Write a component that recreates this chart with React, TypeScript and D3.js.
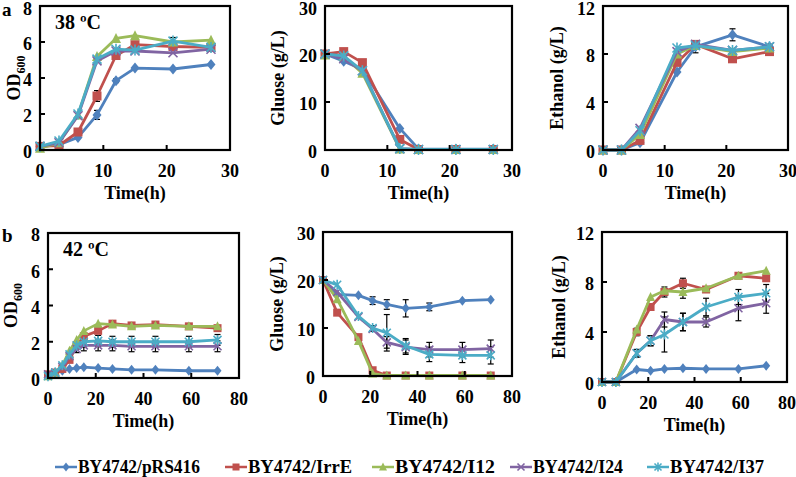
import React from "react";
import * as d3 from "d3";

// ---------- data ----------
const strains = ["BY4742/pRS416", "BY4742/IrrE", "BY4742/I12", "BY4742/I24", "BY4742/I37"];
const colors = ["#4F81BD", "#C0504D", "#9BBB59", "#8064A2", "#4BACC6"];
const markers = ["diamond", "square", "triangle", "x", "star"];

const timeA_OD = [0, 3, 6, 9, 12, 15, 21, 27];
const timeA = [0, 3, 6, 12, 15, 21, 27];
const timeB_OD = [0, 3, 6, 9, 12, 15, 21, 27, 35, 45, 59, 71];
const timeB = [0, 6, 15, 21, 27, 35, 45, 59, 71];

// 38 °C OD600
const odA = [
  [0.2, 0.3, 0.7, 1.95, 3.85, 4.55, 4.5, 4.75],
  [0.2, 0.25, 1.0, 3.0, 5.25, 5.85, 5.75, 5.7],
  [0.1, 0.4, 1.95, 5.2, 6.2, 6.35, 6.0, 6.1],
  [0.2, 0.4, 1.9, 4.95, 5.5, 5.5, 5.4, 5.6],
  [0.2, 0.5, 2.0, 5.05, 5.6, 5.55, 6.05, 5.7],
];
const odAErr = [
  [0, 0, 0, 0.25, 0.1, 0, 0, 0],
  [0, 0, 0, 0.3, 0.1, 0, 0, 0],
  [0, 0, 0, 0, 0, 0, 0, 0],
  [0, 0, 0, 0, 0, 0, 0, 0],
  [0, 0, 0, 0, 0, 0, 0.2, 0],
];
// 38 °C glucose
const gluA = [
  [20, 18.5, 16.8, 4.5, 0.2, 0.2, 0.2],
  [20, 20.5, 18.2, 2.2, 0.1, 0.1, 0.1],
  [19.8, 19.5, 16, 0.2, 0.1, 0.1, 0.1],
  [20, 19, 16.5, 0.3, 0.1, 0.1, 0.1],
  [20, 19.6, 16.5, 0.3, 0.1, 0.1, 0.1],
];
// 38 °C ethanol
const ethA = [
  [0, 0, 0.6, 6.5, 8.6, 9.6, 8.6],
  [0, 0, 0.8, 7.3, 8.8, 7.6, 8.2],
  [0, 0, 1.3, 8.0, 8.7, 8.2, 8.5],
  [0, 0, 1.8, 8.2, 8.8, 8.3, 8.6],
  [0, 0, 1.6, 8.5, 8.7, 8.3, 8.6],
];
const ethAErr = [
  [0, 0, 0, 0, 0.5, 0.5, 0],
  [0, 0, 0, 0, 0, 0, 0],
  [0, 0, 0, 0, 0, 0, 0],
  [0, 0, 0, 0, 0, 0, 0],
  [0, 0, 0, 0, 0, 0, 0.2],
];
// 42 °C OD600
const odB = [
  [0.2, 0.3, 0.4, 0.5, 0.55, 0.6, 0.55, 0.5, 0.45, 0.45, 0.4, 0.4],
  [0.2, 0.3, 0.5, 1.0, 1.8, 2.3, 2.6, 3.0, 2.9, 2.95, 2.85, 2.75],
  [0.1, 0.3, 0.7, 1.5, 2.1, 2.6, 3.0, 2.95, 2.85, 2.9, 2.85, 2.85],
  [0.2, 0.3, 0.6, 1.2, 1.6, 1.8, 1.8, 1.8, 1.75, 1.75, 1.75, 1.75],
  [0.1, 0.3, 0.7, 1.3, 1.8, 2.0, 2.05, 2.0, 2.0, 2.0, 2.0, 2.1],
];
const odBErr = [
  [0, 0, 0, 0, 0, 0, 0, 0, 0, 0, 0, 0],
  [0, 0, 0, 0, 0, 0, 0, 0, 0, 0, 0, 0],
  [0, 0, 0, 0, 0, 0, 0, 0, 0, 0, 0, 0],
  [0, 0, 0, 0.1, 0.2, 0.3, 0.3, 0.3, 0.3, 0.3, 0.3, 0.3],
  [0, 0, 0, 0.1, 0.2, 0.3, 0.3, 0.3, 0.3, 0.3, 0.3, 0.3],
];
// 42 °C glucose
const gluB = [
  [20, 17, 16.8, 15.7, 14.9, 14.1, 14.4, 15.7, 15.9],
  [20, 13.2, 8.1, 1.2, 0.1, 0.1, 0.1, 0.1, 0.1],
  [20, 16, 7.3, 0.5, 0.1, 0.1, 0.1, 0.1, 0.1],
  [20, 17.5, 12.3, 9.8, 7.0, 6.0, 5.5, 5.5, 5.7],
  [20, 19, 12.5, 10.0, 9.0, 6.3, 4.5, 4.3, 4.3],
];
const gluBErr = [
  [0, 0, 0, 0.8, 1.0, 1.8, 0.8, 0, 0],
  [0, 0, 0, 0, 0, 0, 0, 0, 0],
  [0, 0, 0, 0, 0, 0, 0, 0, 0],
  [0, 0, 0, 0.5, 1.2, 1.5, 1.5, 1.5, 1.8],
  [0, 0, 0, 0.5, 3.8, 1.5, 1.5, 1.5, 1.8],
];
// 42 °C ethanol
const ethB = [
  [0, 0, 1.0, 0.9, 1.05, 1.1, 1.05, 1.05, 1.3],
  [0, 0, 4.0, 6.0, 7.2, 7.9, 7.4, 8.5, 8.3],
  [0, 0, 4.2, 6.8, 7.3, 7.2, 7.5, 8.5, 8.9],
  [0, 0, 2.3, 3.3, 5.0, 4.8, 4.8, 5.9, 6.3],
  [0, 0, 2.3, 3.3, 3.8, 4.8, 6.0, 6.8, 7.1],
];
const ethBErr = [
  [0, 0, 0, 0, 0, 0, 0, 0, 0],
  [0, 0, 0.3, 0, 0.4, 0.4, 0, 0, 0],
  [0, 0, 0, 0, 0, 0.5, 0, 0, 0],
  [0, 0, 0.3, 0.4, 0.6, 0.7, 0.4, 1.0, 0.8],
  [0, 0, 0.3, 0.4, 1.4, 0.7, 0.7, 0.6, 0.7],
];

const xTicksA = [0, 10, 20, 30];
const xTicksB = [0, 20, 40, 60, 80];
const yTicksOD = [0, 2, 4, 6, 8];
const yTicksGlu = [0, 10, 20, 30];
const yTicksEth = [0, 4, 8, 12];

// ---------- layout ----------
type Panel = {
  x0: number; x1: number; y0: number; y1: number;
  xMax: number; yMax: number; xTicks: number[]; yTicks: number[];
  time: number[]; values: number[][]; errs?: number[][];
  yTitle: string; sub?: string; yTitleX: number; label?: string; letter?: string;
  ms: number;
};

const panels: Panel[] = [
  { x0: 40, x1: 230, y0: 6, y1: 150, xMax: 30, yMax: 8, xTicks: xTicksA, yTicks: yTicksOD,
    time: timeA_OD, values: odA, errs: odAErr, yTitle: "OD", sub: "600", yTitleX: 14, label: "38 ºC", letter: "a", ms: 9 },
  { x0: 325, x1: 512, y0: 6, y1: 150, xMax: 30, yMax: 30, xTicks: xTicksA, yTicks: yTicksGlu,
    time: timeA, values: gluA, yTitle: "Gluose (g/L)", yTitleX: 278, ms: 9 },
  { x0: 603, x1: 788, y0: 6, y1: 150, xMax: 30, yMax: 12, xTicks: xTicksA, yTicks: yTicksEth,
    time: timeA, values: ethA, errs: ethAErr, yTitle: "Ethanol (g/L)", yTitleX: 557, ms: 9 },
  { x0: 48, x1: 239, y0: 233, y1: 378, xMax: 80, yMax: 8, xTicks: xTicksB, yTicks: yTicksOD,
    time: timeB_OD, values: odB, errs: odBErr, yTitle: "OD", sub: "600", yTitleX: 11, label: "42 ºC", letter: "b", ms: 8 },
  { x0: 323, x1: 512, y0: 232, y1: 376, xMax: 80, yMax: 30, xTicks: xTicksB, yTicks: yTicksGlu,
    time: timeB, values: gluB, errs: gluBErr, yTitle: "Gluose (g/L)", yTitleX: 277, ms: 8 },
  { x0: 602, x1: 787, y0: 232, y1: 382, xMax: 80, yMax: 12, xTicks: xTicksB, yTicks: yTicksEth,
    time: timeB, values: ethB, errs: ethBErr, yTitle: "Ethanol (g/L)", yTitleX: 559, ms: 8 },
];

const FONT = "'Liberation Serif', 'Times New Roman', serif";

function Marker({ type, x, y, s, color }: { type: string; x: number; y: number; s: number; color: string }) {
  const h = s / 2;
  if (type === "diamond") {
    const p = d3.path();
    p.moveTo(x, y - h - 1); p.lineTo(x + h, y); p.lineTo(x, y + h + 1); p.lineTo(x - h, y); p.closePath();
    return <path d={p.toString()} fill={color} />;
  }
  if (type === "square") {
    return <rect x={x - h} y={y - h} width={s} height={s} fill={color} />;
  }
  if (type === "triangle") {
    const p = d3.path();
    p.moveTo(x, y - h - 1); p.lineTo(x + h + 0.5, y + h); p.lineTo(x - h - 0.5, y + h); p.closePath();
    return <path d={p.toString()} fill={color} />;
  }
  const p = d3.path();
  p.moveTo(x - h, y - h); p.lineTo(x + h, y + h);
  p.moveTo(x + h, y - h); p.lineTo(x - h, y + h);
  if (type === "star") { p.moveTo(x, y - h - 1); p.lineTo(x, y + h + 1); }
  return <path d={p.toString()} stroke={color} strokeWidth={1.6} fill="none" />;
}

function PanelView({ p }: { p: Panel }) {
  const xs = d3.scaleLinear().domain([0, p.xMax]).range([p.x0, p.x1]);
  const ys = d3.scaleLinear().domain([0, p.yMax]).range([p.y1, p.y0]);
  const line = d3.line<[number, number]>().x((d) => xs(d[0])).y((d) => ys(d[1]));
  const cx = (p.x0 + p.x1) / 2;
  const cy = (p.y0 + p.y1) / 2;
  return (
    <g>
      {/* error bars */}
      {p.errs && p.errs.map((es, si) =>
        es.map((e, i) => {
          if (!e) return null;
          const x = xs(p.time[i]);
          const yv = p.values[si][i];
          const ya = ys(Math.min(p.yMax, yv + e));
          const yb = ys(Math.max(0, yv - e));
          return (
            <g key={`e${si}-${i}`} stroke="#000" strokeWidth={1.2}>
              <line x1={x} x2={x} y1={ya} y2={yb} />
              <line x1={x - 3} x2={x + 3} y1={ya} y2={ya} />
              <line x1={x - 3} x2={x + 3} y1={yb} y2={yb} />
            </g>
          );
        })
      )}
      {/* series */}
      {p.values.map((vals, si) => {
        const pts = vals.map((v, i) => [p.time[i], v] as [number, number]);
        return (
          <g key={si}>
            <path d={line(pts) || ""} fill="none" stroke={colors[si]} strokeWidth={2.8} strokeLinejoin="round" />
            {pts.map((d, i) => (
              <Marker key={i} type={markers[si]} x={xs(d[0])} y={ys(d[1])} s={p.ms} color={colors[si]} />
            ))}
          </g>
        );
      })}
      {/* frame */}
      <rect x={p.x0} y={p.y0} width={p.x1 - p.x0} height={p.y1 - p.y0} fill="none" stroke="#000" strokeWidth={2.2} />
      {/* ticks */}
      {p.xTicks.map((t) => (
        <g key={`xt${t}`}>
          <line x1={xs(t)} x2={xs(t)} y1={p.y1} y2={p.y1 - 5} stroke="#000" strokeWidth={2} />
          <text x={xs(t)} y={p.y1 + 27} textAnchor="middle" fontSize={18} fontWeight="bold" fontFamily={FONT}>{t}</text>
        </g>
      ))}
      {p.yTicks.map((t) => (
        <g key={`yt${t}`}>
          <line x1={p.x0} x2={p.x0 + 5} y1={ys(t)} y2={ys(t)} stroke="#000" strokeWidth={2} />
          <text x={p.x0 - 8} y={Math.max(ys(t) + 2, 9)} dy="0.35em" textAnchor="end" fontSize={18} fontWeight="bold" fontFamily={FONT}>{t}</text>
        </g>
      ))}
      <text x={cx} y={p.y1 + 49} textAnchor="middle" fontSize={18} fontWeight="bold" fontFamily={FONT}>Time(h)</text>
      <text transform={`translate(${p.yTitleX},${cy}) rotate(-90)`} textAnchor="middle" dy="0.35em"
        fontSize={18} fontWeight="bold" fontFamily={FONT}>
        {p.yTitle}
        {p.sub && <tspan fontSize={12} dy="5">{p.sub}</tspan>}
      </text>
      {p.label && (
        <text x={p.x0 + 15} y={p.y0 + 23} fontSize={20} fontWeight="bold" fontFamily={FONT}>{p.label}</text>
      )}
      {p.letter && (
        <text x={2} y={Math.max(p.y0 + 9, 16)} fontSize={19} fontWeight="bold" fontFamily={FONT}>{p.letter}</text>
      )}
    </g>
  );
}

const legendX = [55, 225, 372, 510, 647];
const legendLen = [122, 104, 100, 90, 94];

export default function App() {
  return (
    <div style={{ position: "absolute", left: 0, top: 0 }}>
      <svg width={796} height={477} style={{ display: "block", background: "#fff" }}>
        <rect width={796} height={477} fill="#fff" />
        {panels.map((p, i) => <PanelView key={i} p={p} />)}
        {strains.map((s, i) => (
          <g key={s}>
            <line x1={legendX[i]} x2={legendX[i] + 22} y1={467} y2={467} stroke={colors[i]} strokeWidth={2.5} />
            <Marker type={markers[i]} x={legendX[i] + 11} y={467} s={7} color={colors[i]} />
            <text x={legendX[i] + 23} y={473} fontSize={18} fontWeight="bold" fontFamily={FONT}
              textLength={legendLen[i]} lengthAdjust="spacingAndGlyphs">{s}</text>
          </g>
        ))}
      </svg>
    </div>
  );
}
